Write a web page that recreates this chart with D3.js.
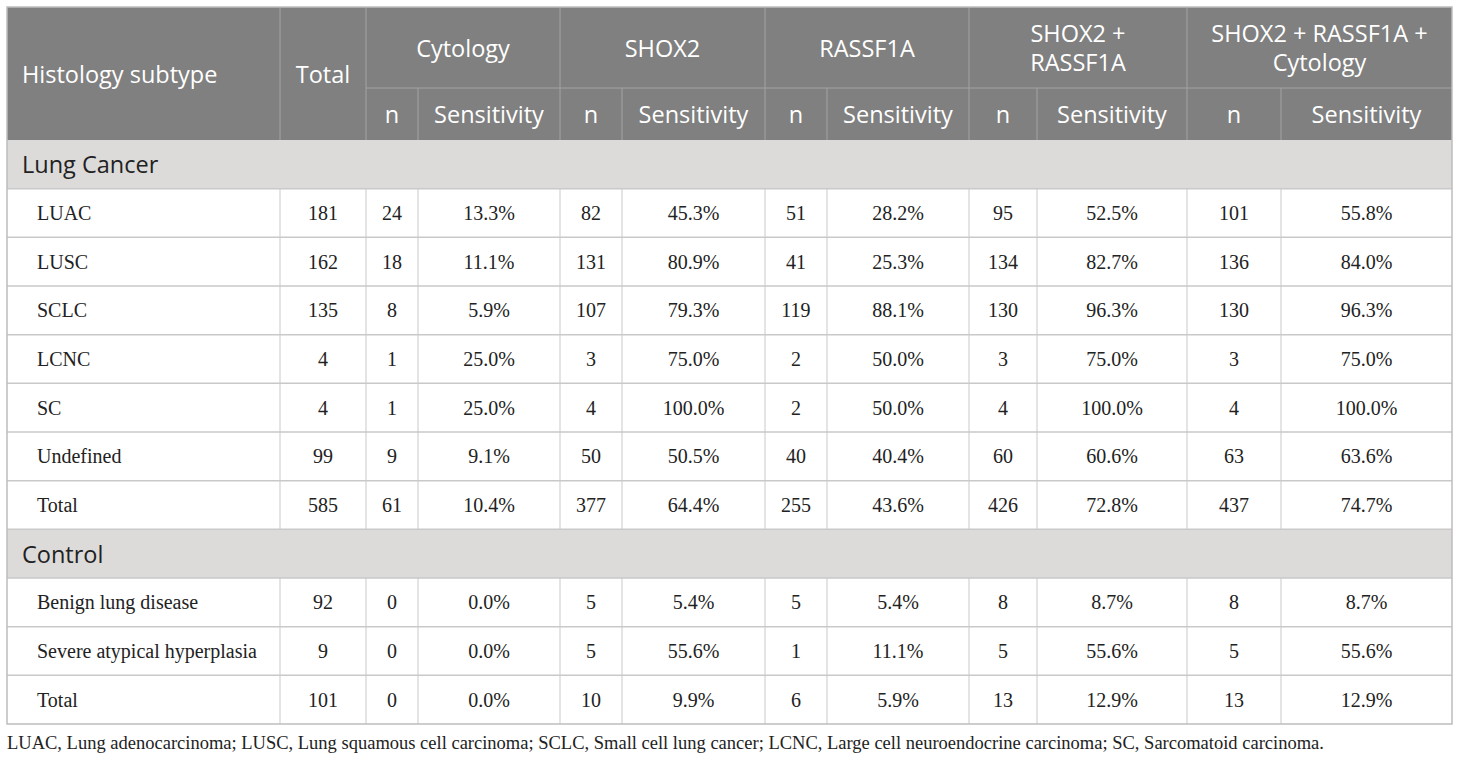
<!DOCTYPE html>
<html>
<head>
<meta charset="utf-8">
<script src="https://cdn.jsdelivr.net/npm/d3@7"></script>
<style>
  body { margin: 0; background: #fff; }
  .hdr { font-family: "Open Sans", sans-serif; fill: #fff; }
  .grp { font-family: "Open Sans", sans-serif; fill: #222; }
  .cell { font-family: "Liberation Serif", "Times New Roman", serif; fill: #222; }
</style>
</head>
<body>
<svg id="chart" width="1460" height="761"></svg>
<script>
// ---- data ----
const markers = ["Cytology", "SHOX2", "RASSF1A", "SHOX2 +\nRASSF1A", "SHOX2 + RASSF1A +\nCytology"];
const subHeaders = ["n", "Sensitivity"];

const lungSubtypes = ["LUAC", "LUSC", "SCLC", "LCNC", "SC", "Undefined", "Total"];
const lungTotal = [181, 162, 135, 4, 4, 99, 585];
const lungN = [
  [24, 18, 8, 1, 1, 9, 61],          // Cytology
  [82, 131, 107, 3, 4, 50, 377],     // SHOX2
  [51, 41, 119, 2, 2, 40, 255],      // RASSF1A
  [95, 134, 130, 3, 4, 60, 426],     // SHOX2 + RASSF1A
  [101, 136, 130, 3, 4, 63, 437]     // all three
];
const lungSens = [
  [13.3, 11.1, 5.9, 25.0, 25.0, 9.1, 10.4],
  [45.3, 80.9, 79.3, 75.0, 100.0, 50.5, 64.4],
  [28.2, 25.3, 88.1, 50.0, 50.0, 40.4, 43.6],
  [52.5, 82.7, 96.3, 75.0, 100.0, 60.6, 72.8],
  [55.8, 84.0, 96.3, 75.0, 100.0, 63.6, 74.7]
];

const controlSubtypes = ["Benign lung disease", "Severe atypical hyperplasia", "Total"];
const controlTotal = [92, 9, 101];
const controlN = [
  [0, 0, 0],
  [5, 5, 10],
  [5, 1, 6],
  [8, 5, 13],
  [8, 5, 13]
];
const controlSens = [
  [0.0, 0.0, 0.0],
  [5.4, 55.6, 9.9],
  [5.4, 11.1, 5.9],
  [8.7, 55.6, 12.9],
  [8.7, 55.6, 12.9]
];

const footnote = "LUAC, Lung adenocarcinoma; LUSC, Lung squamous cell carcinoma; SCLC, Small cell lung cancer; LCNC, Large cell neuroendocrine carcinoma; SC, Sarcomatoid carcinoma.";

// ---- layout ----
const colWidths = [273, 86, 52, 142, 62, 143, 62, 142, 68, 150, 94, 171];
const tLeft = 7, tTop = 7;
const hdrRow1 = 81, hdrRow2 = 52;
const bodyTop = tTop + hdrRow1 + hdrRow2;
const bodyBottom = 724;

const colX = [tLeft];
colWidths.forEach(w => colX.push(colX[colX.length - 1] + w));
const tRight = colX[colX.length - 1];

// flatten the rows: group rows and data rows
const rows = [];
const pushGroup = (label, subtypes, totals, nArr, sArr) => {
  rows.push({ type: "group", label });
  subtypes.forEach((s, i) => {
    const cells = [s, totals[i]];
    nArr.forEach((ns, m) => { cells.push(ns[i]); cells.push(sArr[m][i].toFixed(1) + "%"); });
    rows.push({ type: "data", cells });
  });
};
pushGroup("Lung Cancer", lungSubtypes, lungTotal, lungN, lungSens);
pushGroup("Control", controlSubtypes, controlTotal, controlN, controlSens);

const y = d3.scaleBand()
  .domain(d3.range(rows.length))
  .range([bodyTop, bodyBottom]);

const svg = d3.select("#chart");

// ---- header ----
const hdrFill = "#808080", hdrLine = "#a3a3a3";
svg.append("rect")
  .attr("x", tLeft).attr("y", tTop)
  .attr("width", tRight - tLeft).attr("height", hdrRow1 + hdrRow2)
  .attr("fill", hdrFill);

const hdr = svg.append("g");
// vertical lines in header
colX.slice(1, -1).forEach((x, i) => {
  // boundaries between n and Sensitivity only go through the second header row
  const inner = i >= 2 && (i - 2) % 2 === 0;
  hdr.append("line")
    .attr("x1", x).attr("x2", x)
    .attr("y1", inner ? tTop + hdrRow1 : tTop).attr("y2", bodyTop)
    .attr("stroke", hdrLine).attr("stroke-width", 1);
});
hdr.append("line")
  .attr("x1", colX[2]).attr("x2", tRight)
  .attr("y1", tTop + hdrRow1).attr("y2", tTop + hdrRow1)
  .attr("stroke", hdrLine).attr("stroke-width", 1);

const hdrFont = 23.5;
hdr.append("text").attr("class", "hdr")
  .attr("x", tLeft + 15).attr("y", tTop + (hdrRow1 + hdrRow2) / 2)
  .attr("dominant-baseline", "central").attr("font-size", hdrFont)
  .text("Histology subtype");
hdr.append("text").attr("class", "hdr")
  .attr("x", (colX[1] + colX[2]) / 2).attr("y", tTop + (hdrRow1 + hdrRow2) / 2)
  .attr("text-anchor", "middle").attr("dominant-baseline", "central").attr("font-size", hdrFont)
  .text("Total");

markers.forEach((m, i) => {
  const x0 = colX[2 + i * 2], x1 = colX[4 + i * 2];
  const lines = m.split("\n");
  lines.forEach((ln, j) => {
    hdr.append("text").attr("class", "hdr")
      .attr("text-anchor", "middle").attr("font-size", hdrFont)
      .attr("x", (x0 + x1) / 2)
      .attr("y", tTop + hdrRow1 / 2 + (j - (lines.length - 1) / 2) * 29)
      .attr("dominant-baseline", "central")
      .text(ln);
  });
  subHeaders.forEach((s, k) => {
    hdr.append("text").attr("class", "hdr")
      .attr("x", (colX[2 + i * 2 + k] + colX[3 + i * 2 + k]) / 2)
      .attr("y", tTop + hdrRow1 + hdrRow2 / 2)
      .attr("text-anchor", "middle").attr("dominant-baseline", "central")
      .attr("font-size", hdrFont)
      .text(s);
  });
});

// ---- body ----
const lineCol = "#c9c9c9";
const body = svg.append("g");

const rowG = body.selectAll("g.row")
  .data(rows)
  .join("g")
  .attr("class", "row")
  .attr("transform", (d, i) => `translate(0,${y(i)})`);

rowG.filter(d => d.type === "group")
  .append("rect")
  .attr("x", tLeft).attr("width", tRight - tLeft)
  .attr("height", y.bandwidth())
  .attr("fill", "#dcdbda");

rowG.filter(d => d.type === "group")
  .append("text").attr("class", "grp")
  .attr("x", tLeft + 15).attr("y", y.bandwidth() / 2)
  .attr("dominant-baseline", "central").attr("font-size", hdrFont)
  .text(d => d.label);

const dataRows = rowG.filter(d => d.type === "data");
dataRows.selectAll("line.v")
  .data(colX.slice(1, -1))
  .join("line")
  .attr("class", "v")
  .attr("x1", d => d).attr("x2", d => d)
  .attr("y1", 0).attr("y2", y.bandwidth())
  .attr("stroke", lineCol);

dataRows.selectAll("text.cell")
  .data(d => d.cells)
  .join("text")
  .attr("class", "cell")
  .attr("x", (d, i) => i === 0 ? tLeft + 30 : (colX[i] + colX[i + 1]) / 2)
  .attr("y", y.bandwidth() / 2)
  .attr("text-anchor", (d, i) => i === 0 ? "start" : "middle")
  .attr("dominant-baseline", "central")
  .attr("font-size", 20)
  .text(d => d);

// horizontal row separators
body.selectAll("line.h")
  .data(d3.range(1, rows.length))
  .join("line")
  .attr("class", "h")
  .attr("x1", tLeft).attr("x2", tRight)
  .attr("y1", i => y(i)).attr("y2", i => y(i))
  .attr("stroke", lineCol).attr("stroke-width", 1.5);

// outer border
svg.append("rect")
  .attr("x", tLeft).attr("y", tTop)
  .attr("width", tRight - tLeft).attr("height", bodyBottom - tTop)
  .attr("fill", "none").attr("stroke", "#bdbdbd").attr("stroke-width", 1.5);

// ---- footnote ----
svg.append("text").attr("class", "cell")
  .attr("x", tLeft).attr("y", 743)
  .attr("dominant-baseline", "central")
  .attr("font-size", 18.5)
  .text(footnote);
</script>
</body>
</html>
